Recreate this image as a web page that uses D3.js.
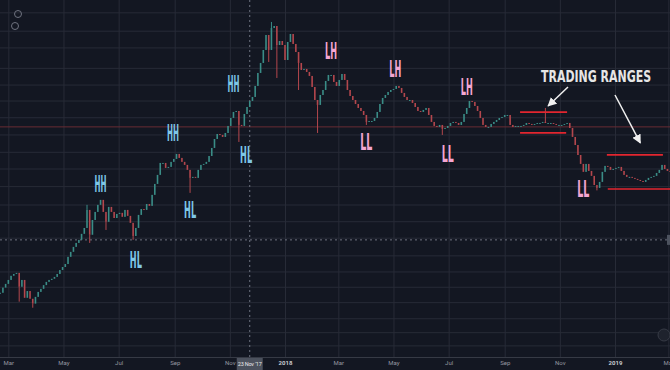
<!DOCTYPE html>
<html>
<head>
<meta charset="utf-8">
<script src="https://cdn.jsdelivr.net/npm/d3@7"></script>
<style>
  html, body { margin: 0; padding: 0; background: #131722; }
  svg { display: block; }
</style>
</head>
<body>
<svg id="chart" width="670" height="370"></svg>
<script>
// one candle every 3 days, closes (open = previous close)
const startDate = '2017-02-20';
const stepDays = 3;
const closes = [
  1030, 1090, 1135, 1185, 1240, 1265, 1280, 1100, 1185, 975,
  1050, 965, 915, 985, 1040, 1075, 1120, 1160, 1185, 1200,
  1225, 1265, 1320, 1365, 1410, 1525, 1610, 1700, 1775, 1835,
  1960, 2090, 2545, 1940, 2280, 2490, 2690, 2840, 2490, 2235,
  2630, 2490, 2330, 2435, 2465, 2360, 2545, 2385, 2210, 1915,
  2090, 2410, 2570, 2545, 2715, 2660, 3000, 3380, 3730, 4250,
  4250, 4025, 4070, 4300, 4440, 4690, 4490, 4300, 4160, 3940,
  3610, 3650, 3610, 3940, 4160, 4205, 4300, 4585, 5005, 5520,
  5830, 5770, 5645, 5895, 6365, 6945, 7415, 7495, 6435, 6365,
  7255, 7830, 8360, 8735, 9850, 11350, 12660, 14585, 17180, 14585,
  18540, 18950, 15400, 16090, 15400, 13075, 15920, 17370, 15575, 14270,
  12660, 11725, 11855, 11475, 10985, 9740, 8450, 8005, 8925, 9425,
  10400, 11105, 11105, 10290, 9850, 10515, 11225, 10515, 9425, 8830,
  8450, 8090, 7745, 7495, 7175, 6650, 6720, 6720, 6945, 7415,
  8090, 8640, 8925, 9225, 9425, 9530, 9850, 9635, 9125, 8735,
  8450, 8450, 8180, 7830, 7495, 7415, 7580, 7745, 7175, 6650,
  6365, 6295, 6435, 6160, 6225, 6365, 6575, 6650, 6575, 6435,
  6650, 7255, 7745, 8360, 8270, 7915, 7495, 6945, 6435, 6295,
  6295, 6505, 6650, 6795, 6945, 7020, 7175, 7175, 6435, 6295,
  6365, 6365, 6365, 6435, 6575, 6505, 6435, 6505, 6575, 6575,
  6650, 6575, 6575, 6575, 6505, 6435, 6435, 6435, 6505, 6575,
  6225, 5645, 5170, 4635, 4205, 3855, 4205, 3895, 3690, 3340,
  3235, 3455, 3855, 4115, 4070, 3940, 3980, 4025, 4070, 3895,
  3730, 3650, 3650, 3610, 3570, 3530, 3490, 3455, 3530, 3610,
  3650, 3690, 3810, 3940, 4160, 3980, 3895, 3855
];

// wick extremes that stick out of the bodies
const spikeDates = ['2017-03-13', '2017-03-28', '2017-05-27', '2017-05-30', '2017-06-17',
  '2017-07-17', '2017-09-18', '2017-11-11', '2017-12-14', '2017-12-17', '2017-12-23',
  '2018-01-16', '2018-02-06', '2018-04-01', '2018-06-24', '2018-10-16', '2018-12-12'];
const spikePrices = [935, 875, 2690, 1775, 2045, 1835, 3065, 5345, 12800, 19800, 10745,
  9425, 5895, 6435, 5770, 7745, 3150];

const gridPrices = [22000, 18000, 15000, 12000, 10000, 8400, 7000, 5800, 4800, 4000,
  3300, 2700, 2250, 1880, 1550, 1300, 1100, 930, 780, 670, 580];
const monthTicks = ['2017-03-01', '2017-05-01', '2017-07-01', '2017-09-01', '2017-11-01',
  '2018-01-01', '2018-03-01', '2018-05-01', '2018-07-01', '2018-09-01', '2018-11-01',
  '2019-01-01', '2019-03-01'];
const monthLabels = ['Mar', 'May', 'Jul', 'Sep', 'Nov', '2018', 'Mar', 'May', 'Jul', 'Sep',
  'Nov', '2019', 'Mar'];

const refPrice = 6300;
const crossDate = '2017-11-23';
const crossPrice = 1835;
const crossLabel = "23 Nov '17";

const swingTexts = ['HH', 'HL', 'HH', 'HL', 'HH', 'HL', 'LH', 'LL', 'LH', 'LL', 'LH', 'LL'];
const swingDates = ['2017-06-11', '2017-07-20', '2017-08-30', '2017-09-18', '2017-11-05',
  '2017-11-19', '2018-02-21', '2018-04-01', '2018-05-03', '2018-06-30', '2018-07-21',
  '2018-11-27'];
const swingPrices = [3100, 1350, 5400, 2330, 9225, 4250, 13220, 4900, 10860, 4300, 8925, 2930];

const rangeStarts = ['2018-09-18', '2018-09-18', '2018-12-23', '2018-12-24'];
const rangeEnds = ['2018-11-09', '2018-11-08', '2019-02-23', '2019-03-04'];
const rangePrices = [7400, 5900, 4640, 3200];

const arrowFromDates = ['2018-11-10', '2019-01-01'];
const arrowFromPrices = [9740, 8925];
const arrowToDates = ['2018-10-19', '2019-01-29'];
const arrowToPrices = [7915, 5290];

const noteText = 'TRADING RANGES';
const noteDate = '2018-12-11';
const notePrice = 10290;

const W = 670, H = 370, plotBottom = 357;
const parse = d3.utcParse('%Y-%m-%d');
const upColor = '#3a8d87', downColor = '#b4474d';

const x = d3.scaleUtc()
  .domain([parse('2018-01-01'), parse('2019-01-01')])
  .range([285, 615]);
const y = d3.scaleLog()
  .domain([511, 25170])
  .range([plotBottom, 0]);

const start = parse(startDate);
const candles = closes.map((c, i) => ({
  date: d3.utcDay.offset(start, i * stepDays),
  open: i ? closes[i - 1] : c,
  close: c
}));

const svg = d3.select('#chart');
svg.append('rect').attr('width', W).attr('height', H).attr('fill', '#131722');

const defs = svg.append('defs');
defs.append('clipPath').attr('id', 'plot')
  .append('rect').attr('width', W).attr('height', plotBottom);
defs.append('marker')
  .attr('id', 'head').attr('viewBox', '0 0 10 10')
  .attr('refX', 9).attr('refY', 5)
  .attr('markerWidth', 6).attr('markerHeight', 6)
  .attr('orient', 'auto')
  .append('path').attr('d', 'M0,0 L10,5 L0,10 z').attr('fill', '#f0f0f0');

// grid
const gridY = svg.append('g')
  .call(d3.axisLeft(y).tickValues(gridPrices).tickSize(-W).tickFormat(''));
const gridX = svg.append('g')
  .attr('transform', `translate(0,${plotBottom})`)
  .call(d3.axisBottom(x).tickValues(monthTicks.map(parse)).tickSize(-plotBottom).tickFormat(''));
[gridY, gridX].forEach(g => {
  g.select('.domain').remove();
  g.selectAll('line').attr('stroke', '#272b37').attr('stroke-width', 1);
});

const plot = svg.append('g').attr('clip-path', 'url(#plot)');

// reference level and crosshair
plot.append('line')
  .attr('x1', 0).attr('x2', W)
  .attr('y1', y(refPrice)).attr('y2', y(refPrice))
  .attr('stroke', '#682c34').attr('stroke-width', 1);
plot.append('line')
  .attr('x1', 0).attr('x2', W)
  .attr('y1', y(crossPrice)).attr('y2', y(crossPrice))
  .attr('stroke', '#6f7380').attr('stroke-dasharray', '2,3');
plot.append('line')
  .attr('x1', x(parse(crossDate))).attr('x2', x(parse(crossDate)))
  .attr('y1', 0).attr('y2', plotBottom)
  .attr('stroke', '#6f7380').attr('stroke-dasharray', '2,3');

// wicks
const candleAt = date => candles[Math.round(d3.utcDay.count(start, date) / stepDays)];
plot.selectAll('line.spike')
  .data(spikeDates.map((d, i) => ({ date: parse(d), price: spikePrices[i] })))
  .join('line')
  .attr('class', 'spike')
  .attr('x1', d => x(d.date)).attr('x2', d => x(d.date))
  .attr('y1', d => y(candleAt(d.date).close))
  .attr('y2', d => y(d.price))
  .attr('stroke', d => {
    const c = candleAt(d.date);
    return c.close >= c.open ? upColor : downColor;
  })
  .attr('stroke-width', 1);

// candle bodies
plot.selectAll('rect.candle')
  .data(candles)
  .join('rect')
  .attr('class', 'candle')
  .attr('x', d => x(d.date) - 0.8)
  .attr('width', 1.6)
  .attr('y', d => y(Math.max(d.open, d.close)))
  .attr('height', d => Math.max(1, y(Math.min(d.open, d.close)) - y(Math.max(d.open, d.close))))
  .attr('fill', d => d.close >= d.open ? upColor : downColor);

// trading range lines
plot.selectAll('line.range')
  .data(rangePrices.map((p, i) => ({ p, a: parse(rangeStarts[i]), b: parse(rangeEnds[i]) })))
  .join('line')
  .attr('class', 'range')
  .attr('x1', d => x(d.a)).attr('x2', d => x(d.b))
  .attr('y1', d => y(d.p)).attr('y2', d => y(d.p))
  .attr('stroke', '#e3262f').attr('stroke-width', 1.6);

// arrows
plot.selectAll('line.arrow')
  .data(arrowFromDates.map((d, i) => ({
    x1: x(parse(d)), y1: y(arrowFromPrices[i]),
    x2: x(parse(arrowToDates[i])), y2: y(arrowToPrices[i])
  })))
  .join('line')
  .attr('class', 'arrow')
  .attr('x1', d => d.x1).attr('y1', d => d.y1)
  .attr('x2', d => d.x2).attr('y2', d => d.y2)
  .attr('stroke', '#f0f0f0').attr('stroke-width', 1.5)
  .attr('marker-end', 'url(#head)');

// swing labels
svg.selectAll('text.swing')
  .data(swingTexts.map((t, i) => ({ t, date: parse(swingDates[i]), price: swingPrices[i] })))
  .join('text')
  .attr('class', 'swing')
  .attr('x', d => x(d.date))
  .attr('y', d => y(d.price))
  .attr('text-anchor', 'middle')
  .attr('font-family', '"DejaVu Sans Condensed", "DejaVu Sans", sans-serif')
  .attr('font-weight', 'bold')
  .attr('font-size', 23)
  .attr('textLength', 12)
  .attr('lengthAdjust', 'spacingAndGlyphs')
  .attr('fill', d => d.t[0] === 'H' ? '#7ec6e6' : '#f4a6d2')
  .text(d => d.t);

// note, drawn smaller and stretched up to the tall look of the original
const noteX = x(parse(noteDate)), noteY = y(notePrice);
svg.append('g')
  .attr('transform', `translate(${noteX},${noteY}) scale(1,1.2)`)
  .append('text')
  .attr('text-anchor', 'middle')
  .attr('font-family', '"DejaVu Sans Condensed", "DejaVu Sans", sans-serif')
  .attr('font-weight', 'bold')
  .attr('font-size', 13.5)
  .attr('textLength', 110)
  .attr('lengthAdjust', 'spacingAndGlyphs')
  .attr('fill', '#e6e6e6')
  .text(noteText);

// time axis
svg.append('line')
  .attr('x1', 0).attr('x2', W)
  .attr('y1', plotBottom + 0.5).attr('y2', plotBottom + 0.5)
  .attr('stroke', '#363a45');
const axisX = svg.append('g')
  .attr('transform', `translate(0,${plotBottom})`)
  .call(d3.axisBottom(x).tickValues(monthTicks.map(parse)).tickSize(0).tickPadding(4)
    .tickFormat((d, i) => monthLabels[i]));
axisX.select('.domain').remove();
axisX.selectAll('text')
  .attr('font-family', 'Roboto, "Liberation Sans", sans-serif')
  .attr('font-size', 6)
  .attr('fill', (d, i) => /\d/.test(monthLabels[i]) ? '#c8cad0' : '#9598a1')
  .attr('font-weight', (d, i) => /\d/.test(monthLabels[i]) ? 'bold' : 'normal');

const cx = x(parse(crossDate));
svg.append('rect')
  .attr('x', cx - 13).attr('y', plotBottom + 1)
  .attr('width', 26).attr('height', H - plotBottom - 1)
  .attr('fill', '#4c525e');
svg.append('text')
  .attr('x', cx).attr('y', plotBottom + 9)
  .attr('text-anchor', 'middle')
  .attr('font-family', 'Roboto, "Liberation Sans", sans-serif')
  .attr('font-size', 5.5)
  .attr('textLength', 24)
  .attr('fill', '#e8e8e8')
  .text(crossLabel);

// small chart widgets
svg.append('rect')
  .attr('x', W - 3).attr('y', y(crossPrice) - 5)
  .attr('width', 3).attr('height', 10)
  .attr('fill', '#4c525e');
svg.append('circle').attr('cx', 664).attr('cy', 335).attr('r', 6)
  .attr('fill', '#1e222d').attr('stroke', '#363a45');
svg.append('circle').attr('cx', 18).attr('cy', 14).attr('r', 3.5)
  .attr('fill', 'none').attr('stroke', '#6f7380');
svg.append('circle').attr('cx', 15).attr('cy', 26).attr('r', 3.5)
  .attr('fill', 'none').attr('stroke', '#6f7380');
</script>
</body>
</html>
